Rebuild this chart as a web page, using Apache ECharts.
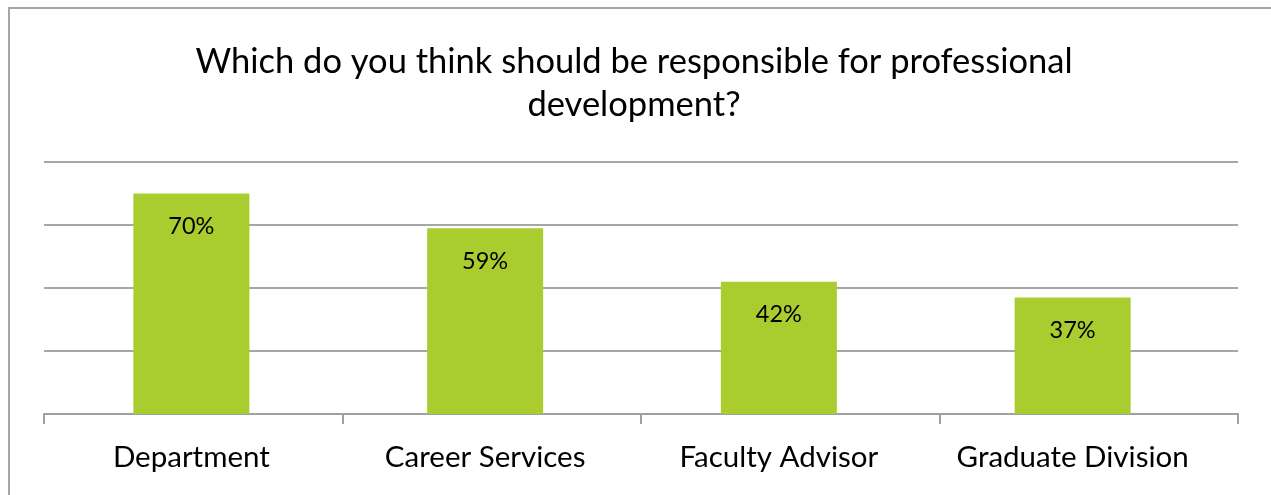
<!DOCTYPE html>
<html>
<head>
<meta charset="utf-8">
<script src="https://cdn.jsdelivr.net/npm/echarts@6/dist/echarts.min.js"></script>
<style>
  html, body { margin: 0; padding: 0; background: #ffffff; }
  #chart { width: 1271px; height: 495px; }
</style>
</head>
<body>
<div id="chart"></div>
<script>
// Survey: who should be responsible for professional development
const titleText = 'Which do you think should be responsible for professional\ndevelopment?';
const categories = ['Department', 'Career Services', 'Faculty Advisor', 'Graduate Division'];
const shares = [70, 59, 42, 37]; // percent of respondents
const yMin = 0;
const yMax = 80;
const yStep = 20;

const FONT = 'Lato, "Open Sans", sans-serif';
const AXIS_GREY = '#a0a0a0';
const GRID_GREY = '#a6a6a6';
const chart = echarts.init(document.getElementById('chart'), null, { renderer: 'canvas' });

chart.setOption({
  backgroundColor: '#ffffff',
  animation: false,
  title: {
    text: titleText,
    left: 629,
    top: 35,
    textAlign: 'center',
    textStyle: {
      fontFamily: FONT,
      fontSize: 34.5,
      fontWeight: 'normal',
      color: '#000000',
      lineHeight: 43
    }
  },
  graphic: [{
    type: 'rect',
    shape: { x: 9, y: 8, width: 1400, height: 600 },
    style: { fill: 'none', stroke: GRID_GREY, lineWidth: 2 },
    silent: true,
    z: 100
  }],
  grid: [
    // frame: gridlines, baseline and category ticks
    { left: 44, right: 33, top: 162, bottom: 81, containLabel: false },
    // bars and their category labels
    { left: 44.5, right: 51.5, top: 162, bottom: 81, containLabel: false }
  ],
  xAxis: [{
    gridIndex: 0,
    type: 'category',
    data: categories,
    boundaryGap: true,
    axisLine: { show: true, lineStyle: { color: AXIS_GREY, width: 2 } },
    axisTick: { show: true, length: 10, lineStyle: { color: AXIS_GREY, width: 2 } },
    axisLabel: { show: false },
    splitLine: { show: false }
  }, {
    gridIndex: 1,
    type: 'category',
    data: categories,
    boundaryGap: true,
    axisLine: { show: false },
    axisTick: { show: false },
    axisLabel: {
      interval: 0,
      hideOverlap: false,
      margin: 28,
      fontFamily: FONT,
      fontSize: 29.5,
      color: '#000000'
    },
    splitLine: { show: false }
  }],
  yAxis: [{
    gridIndex: 0,
    type: 'value',
    min: yMin,
    max: yMax,
    interval: yStep,
    axisLine: { show: false },
    axisTick: { show: false },
    axisLabel: { show: false },
    splitLine: { show: true, lineStyle: { color: GRID_GREY, width: 2 } }
  }, {
    gridIndex: 1,
    type: 'value',
    min: yMin,
    max: yMax,
    interval: yStep,
    axisLine: { show: false },
    axisTick: { show: false },
    axisLabel: { show: false },
    splitLine: { show: false }
  }],
  series: [{
    type: 'bar',
    xAxisIndex: 1,
    yAxisIndex: 1,
    data: shares,
    barWidth: 116,
    itemStyle: { color: '#a9cd2e' },
    label: {
      show: true,
      position: 'insideTop',
      distance: 21,
      formatter: '{c}%',
      fontFamily: FONT,
      fontSize: 23.5,
      color: '#000000'
    }
  }]
});
</script>
</body>
</html>
